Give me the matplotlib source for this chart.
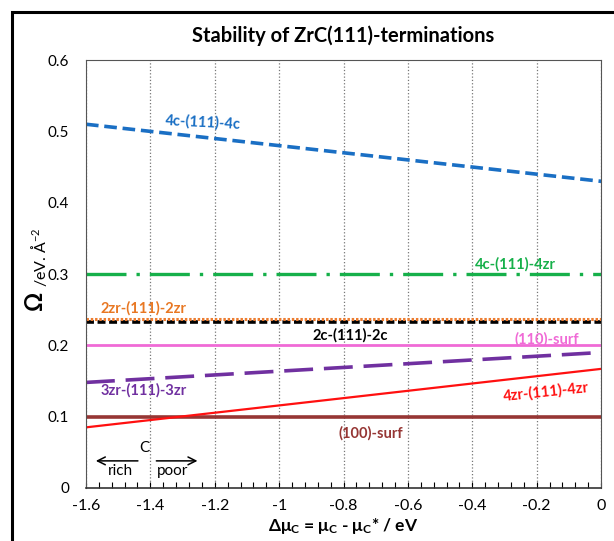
import numpy as np
import matplotlib
matplotlib.use("Agg")
import matplotlib.pyplot as plt
from matplotlib.ticker import MultipleLocator, FuncFormatter
from matplotlib.patches import Rectangle

plt.rcParams['font.family'] = ['Lato', 'DejaVu Sans']
plt.rcParams['mathtext.default'] = 'regular'

# ── data: surface energy Omega vs delta mu_C (end points, linear) ──────────
mu = [-1.6, 0.0]
omega_4c_4c   = [0.510, 0.430]
omega_4c_4zr  = [0.300, 0.300]
omega_2zr_2zr = [0.237, 0.237]
omega_2c_2c   = [0.233, 0.233]
omega_110     = [0.200, 0.200]
omega_3zr_3zr = [0.148, 0.190]
omega_4zr_4zr = [0.085, 0.167]
omega_100     = [0.100, 0.100]

XTICKS = [-1.6, -1.4, -1.2, -1.0, -0.8, -0.6, -0.4, -0.2, 0.0]
YTICKS = [0, 0.1, 0.2, 0.3, 0.4, 0.5, 0.6]

fig = plt.figure(figsize=(6.14, 5.41), dpi=100)
ax = fig.add_axes([0.140, 0.098, 0.839, 0.791])

# outer frame (cropped on right/bottom like the original)
fig.patches.append(Rectangle((12 / 614, -0.05), 1.2, 1 - 12 / 541 + 0.05,
                             transform=fig.transFigure, fill=False,
                             edgecolor='black', linewidth=2.2, zorder=10))

ax.plot(mu, omega_4c_4c, color='#1a6fc4', lw=2.6, dashes=(3.5, 1.6))
ax.plot(mu, omega_4c_4zr, color='#16b04a', lw=2.4, dashes=(12, 3, 1, 3))
ax.plot(mu, omega_2c_2c, color='black', lw=2.6, dashes=(2.2, 1.0))
ax.plot(mu, omega_2zr_2zr, color='#ed7d31', lw=2.2, dashes=(0.8, 0.6))
ax.plot(mu, omega_110, color='#f06ad6', lw=2.0)
ax.plot(mu, omega_3zr_3zr, color='#7030a0', lw=2.6, dashes=(8, 3))
ax.plot(mu, omega_100, color='#963634', lw=2.6)
ax.plot(mu, omega_4zr_4zr, color='#ff1010', lw=1.6)

kw = dict(fontsize=10.5, fontweight='bold', ha='center', va='center')
ax.text(-1.236, 0.512, '4c-(111)-4c', color='#1a6fc4', rotation=-3, **kw)
ax.text(-0.267, 0.314, '4c-(111)-4zr', color='#16b04a', **kw)
ax.text(-1.42, 0.252, '2zr-(111)-2zr', color='#e87722', **kw)
ax.text(-0.78, 0.214, '2c-(111)-2c', color='black', **kw)
ax.text(-0.17, 0.209, '(110)-surf', color='#f06ad6', **kw)
ax.text(-1.42, 0.137, '3zr-(111)-3zr', color='#7030a0', **kw)
ax.text(-0.17, 0.135, '4zr-(111)-4zr', color='#ff1010', rotation=6, **kw)
ax.text(-0.716, 0.077, '(100)-surf', color='#963634', **kw)

# carbon rich / poor arrows
ax.annotate('', xy=(-1.578, 0.038), xytext=(-1.43, 0.038),
            arrowprops=dict(arrowstyle='->', color='black', lw=1.1,
                            mutation_scale=14))
ax.annotate('', xy=(-1.245, 0.038), xytext=(-1.39, 0.038),
            arrowprops=dict(arrowstyle='->', color='black', lw=1.1,
                            mutation_scale=14))
ax.text(-1.42, 0.056, 'C', fontsize=11, ha='center', va='center')
ax.text(-1.494, 0.024, 'rich', fontsize=11, ha='center', va='center')
ax.text(-1.33, 0.024, 'poor', fontsize=11, ha='center', va='center')

ax.set_xlim(-1.6, 0)
ax.set_ylim(0, 0.6)
ax.set_xticks(XTICKS)
ax.set_yticks(YTICKS)
ax.xaxis.set_major_formatter(FuncFormatter(lambda v, p: '%g' % round(v, 2)))
ax.yaxis.set_major_formatter(FuncFormatter(lambda v, p: '%g' % round(v, 2)))
ax.xaxis.set_minor_locator(MultipleLocator(0.04))
ax.tick_params(axis='x', which='both', direction='in', length=4, width=0.8,
               labelsize=11.5, pad=8)
ax.tick_params(axis='y', length=0, labelsize=11, pad=12)
ax.grid(axis='x', which='major', linestyle=':', color='#777777', lw=0.9)

for side in ['top', 'right', 'left']:
    ax.spines[side].set_color('#555555')
ax.spines['bottom'].set_color('#333333')
ax.spines['bottom'].set_linewidth(1.2)

ax.set_title('Stability of ZrC(111)-terminations', fontsize=14.5,
             fontweight='bold', pad=13)
ax.set_xlabel(r'Δμ$_C$ = μ$_C$ - μ$_C$* / eV', fontsize=12.5,
              fontweight='bold', labelpad=2)

fig.text(0.057, 0.444, 'Ω', fontsize=17, fontweight='bold', rotation=90,
         ha='center', va='center')
fig.text(0.064, 0.524, r'/eV. Å$^{-2}$', fontsize=11.5, rotation=90,
         ha='center', va='center')

fig.savefig('out.png', dpi=100)
